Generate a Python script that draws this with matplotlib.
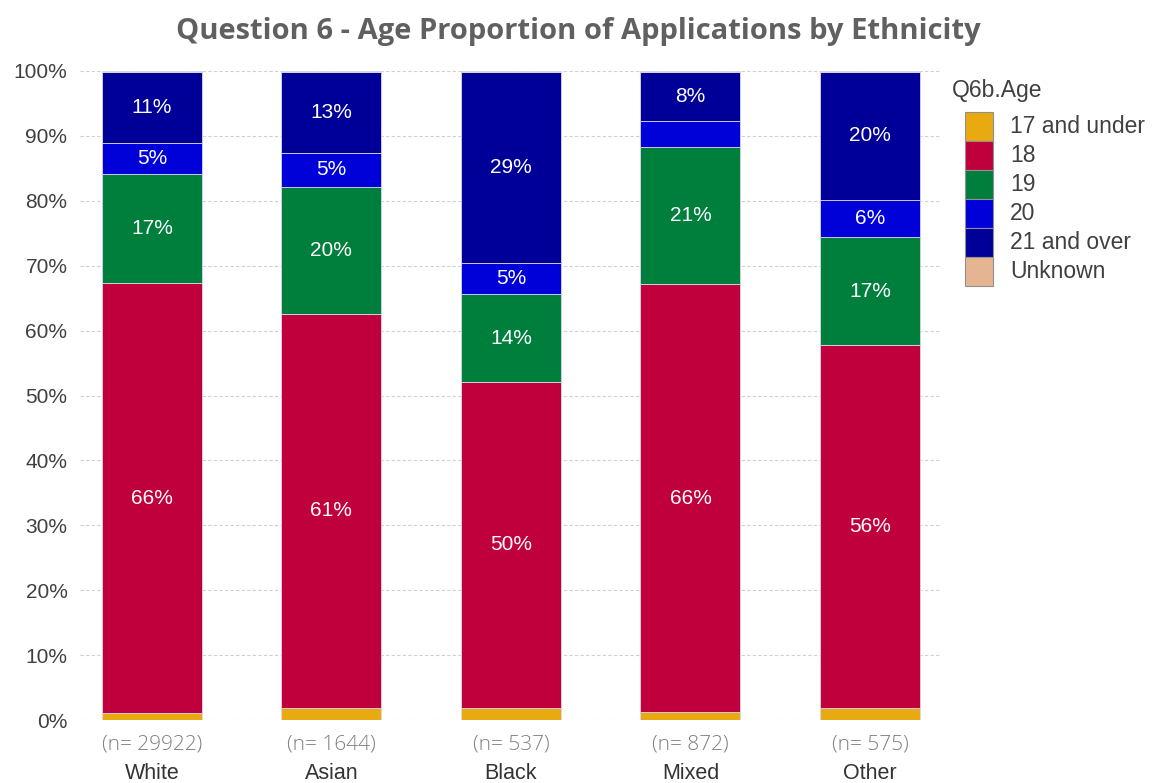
import matplotlib
matplotlib.use("Agg")
import matplotlib.pyplot as plt
from matplotlib.patches import Rectangle
import numpy as np

categories = ["White", "Asian", "Black", "Mixed", "Other"]
counts = [29922, 1644, 537, 872, 575]
age_groups = ["17 and under", "18", "19", "20", "21 and over", "Unknown"]
v_17_under = [1.1, 1.9, 1.9, 1.2, 1.9]
v_18 = [66.2, 60.7, 50.2, 66.0, 55.9]
v_19 = [16.8, 19.6, 13.5, 21.1, 16.6]
v_20 = [4.8, 5.1, 4.8, 4.0, 5.7]
v_21_over = [11.0, 12.6, 29.4, 7.6, 19.8]
v_unknown = [0.1, 0.1, 0.2, 0.1, 0.1]

series = [v_17_under, v_18, v_19, v_20, v_21_over, v_unknown]
colors = ["#E8AA10", "#C0003C", "#007F3C", "#0000D8", "#000099", "#E5B592"]

W, H = 1153, 783
plt.rcParams['font.family'] = ['Liberation Sans', 'DejaVu Sans']
fig = plt.figure(figsize=(W / 100, H / 100), dpi=100)
ax = fig.add_axes([80 / W, 1 - 720 / H, 860 / W, 649 / H])

x = np.arange(len(categories))
width = 0.557
bottom = np.zeros(len(categories))
for vals, col in zip(series, colors):
    vals = np.array(vals) / 100.0
    ax.bar(x, vals, width, bottom=bottom, color=col, edgecolor="#d8d8ea",
           linewidth=0.6, zorder=3)
    for xi, v, b in zip(x, vals, bottom):
        if v >= 0.045:
            ax.text(xi, b + v / 2, f"{int(round(v*100))}%", ha="center", va="center",
                    color="white", fontsize=15, zorder=4)
    bottom += vals

ax.set_xlim(-0.40, 4.39)
ax.set_ylim(0, 1.0)
ticks = np.arange(0, 1.01, 0.1)
ax.set_yticks(ticks)
ax.set_yticklabels([f"{int(round(t*100))}%" for t in ticks], fontsize=15, color="#404040")
ax.yaxis.grid(True, linestyle=(0, (3, 2)), color="#d0d0d0", linewidth=0.8, zorder=0)
for s in ax.spines.values():
    s.set_visible(False)
ax.tick_params(axis="both", length=0)
ax.tick_params(axis="y", pad=9)
ax.set_xticks(x)
ax.set_xticklabels(categories, fontsize=15.5, color="#333333")
ax.tick_params(axis="x", pad=31)
for xi, n in zip(x, counts):
    ax.annotate(f"(n= {n})", xy=(xi, 0), xycoords=("data", "axes fraction"),
                xytext=(0, -18), textcoords="offset points", ha="center", va="center",
                fontsize=15, color="#808080", fontweight="light",
                family=["Open Sans", "DejaVu Sans"])

fig.text(578 / W, 1 - 31 / H, "Question 6 - Age Proportion of Applications by Ethnicity",
         ha="center", va="center", fontsize=21, fontweight="bold", color="#606060",
         family=["Open Sans", "DejaVu Sans"])

# legend
fig.text(952 / W, 1 - 91 / H, "Q6b.Age", ha="left", va="center", fontsize=16.5,
         color="#404040")
row_h = 29
top = 112
for i, (lab, col) in enumerate(zip(age_groups, colors)):
    y0 = top + i * row_h
    fig.patches.append(Rectangle((965 / W, 1 - (y0 + row_h) / H), 28 / W, row_h / H,
                                 transform=fig.transFigure, facecolor=col,
                                 edgecolor="#909090", linewidth=0.8))
    fig.text(1010 / W, 1 - (y0 + row_h / 2) / H, lab, ha="left", va="center",
             fontsize=16.5, color="#404040")

fig.savefig("out.png", dpi=100)
